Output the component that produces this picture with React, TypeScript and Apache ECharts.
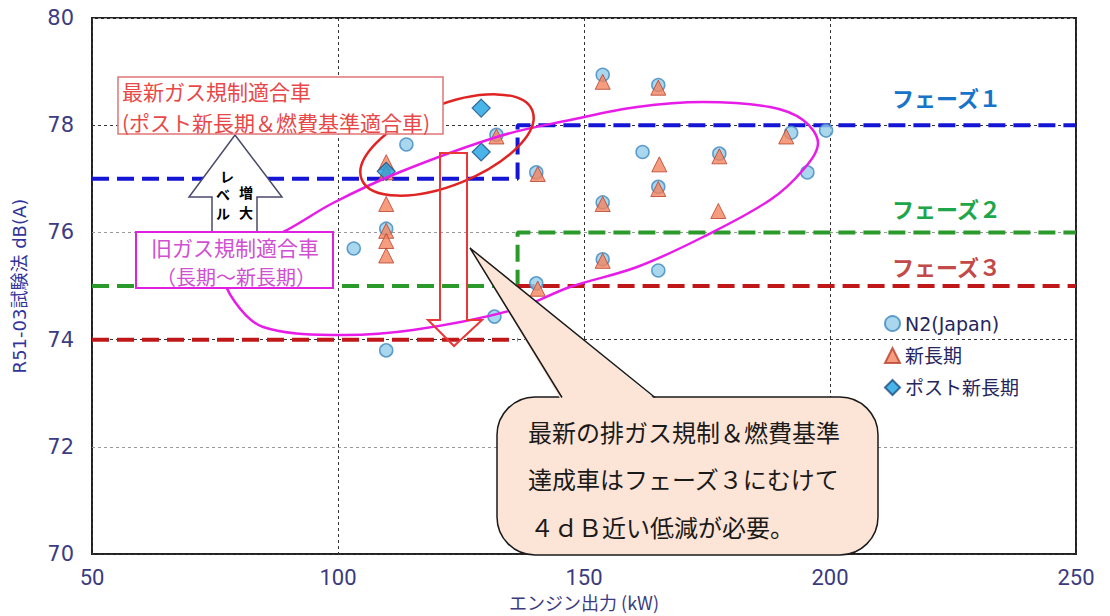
import React, { useEffect, useRef } from "react";
import * as echarts from "echarts";

// ---- data ----
const xRange = [50, 250];
const yRange = [70, 80];
const xInterval = 50;
const yInterval = 2;

const seriesNames = ["N2(Japan)", "新長期", "ポスト新長期"];

const n2Japan: number[][] = [
  [103.2, 75.7], [113.9, 77.64], [109.8, 76.07], [109.8, 73.8], [131.8, 74.43],
  [140.3, 75.05], [132.2, 77.82], [140.3, 77.12], [153.8, 78.94], [165.1, 78.75],
  [161.9, 77.5], [177.5, 77.47], [165.1, 76.85], [153.8, 76.56], [192.1, 77.86],
  [199.2, 77.9], [195.4, 77.12], [153.8, 75.5], [165.1, 75.29],
];

const shinChoki: number[][] = [
  [109.8, 77.31], [109.8, 77.12], [109.8, 76.53], [109.8, 76.03], [109.8, 75.84],
  [109.8, 75.57], [132.2, 77.79], [140.6, 77.09], [140.6, 74.95], [153.8, 78.81],
  [165.1, 78.7], [165.3, 77.27], [177.5, 77.42], [165.1, 76.81], [153.8, 76.53],
  [177.3, 76.4], [191.1, 77.79], [153.8, 75.47],
];

const postShinChoki: number[][] = [
  [109.8, 77.14], [129.1, 78.32], [129.1, 77.5],
];

// phase limit lines
const phase1: number[][] = [[50, 77], [136.5, 77], [136.5, 78], [250, 78]];
const phase2: number[][] = [[50, 75], [136.5, 75], [136.5, 76], [250, 76]];
const phase3Low: number[][] = [[50, 74], [136.5, 74]];
const phase3High: number[][] = [[136.5, 75], [250, 75]];

// annotation geometry (pixel)
const magentaCurve: number[][] = [
  [287, 230], [333, 203], [400, 172], [500, 136], [570, 120], [637, 107],
  [703, 102], [770, 107], [803, 120], [818, 143], [803, 170], [770, 200],
  [703, 237], [637, 267], [570, 287], [513, 310], [413, 330], [337, 335],
  [263, 327], [235, 302], [224, 272], [248, 248],
];

export default function App() {
  const ref = useRef<HTMLDivElement>(null);
  useEffect(() => {
    if (!ref.current) return;
    const chart = echarts.init(ref.current, undefined, { renderer: "svg" });
    const cjk = "'Noto Sans CJK JP', sans-serif";
    const lineSeries = (data: number[][], color: string) => ({
      type: "line",
      data,
      symbol: "none",
      silent: true,
      z: 2,
      lineStyle: { color, width: 4, type: [17, 8] },
    });
    const txt = (text: string, x: number, y: number, extra: any = {}) => ({
      type: "text",
      x,
      y,
      z: 130,
      style: {
        text,
        fontFamily: cjk,
        fontSize: 20,
        fill: "#000",
        textAlign: "left",
        textVerticalAlign: "middle",
        ...extra,
      },
    });
    const arrowChar = { fontWeight: "bold", fontSize: 14, textAlign: "center", lineHeight: 14 };
    chart.setOption({
      animation: false,
      backgroundColor: "#fff",
      grid: {
        left: 92,
        right: 34,
        top: 18,
        bottom: 59,
        show: true,
        borderColor: "#222",
        borderWidth: 2,
        backgroundColor: "transparent",
      },
      xAxis: {
        type: "value",
        min: xRange[0],
        max: xRange[1],
        interval: xInterval,
        name: "エンジン出力 (kW)",
        nameLocation: "middle",
        nameGap: 38,
        nameTextStyle: { color: "#3A3A80", fontSize: 18, fontFamily: "'Liberation Sans Narrow', " + cjk },
        axisLine: { show: false },
        axisTick: { show: false },
        axisLabel: {
          color: "#3A3A80",
          fontSize: 22,
          margin: 12,
          fontFamily: "'Liberation Sans Narrow', 'Roboto', sans-serif",
        },
        splitLine: { show: true, lineStyle: { color: "#333", type: [3, 3], width: 1 } },
      },
      yAxis: {
        type: "value",
        min: yRange[0],
        max: yRange[1],
        interval: yInterval,
        name: "R51-03試験法 dB(A)",
        nameLocation: "middle",
        nameGap: 64,
        nameTextStyle: { color: "#33339A", fontSize: 18, fontFamily: "'DejaVu Sans', " + cjk },
        axisLine: { show: false },
        axisTick: { show: false },
        axisLabel: {
          color: "#3C3C82",
          fontSize: 21,
          margin: 18,
          fontFamily: "'DejaVu Sans', sans-serif",
        },
        splitLine: { show: true, lineStyle: { color: ["#333", "#9a9a9a"], type: [3, 3], width: 1 } },
      },
      legend: {
        data: seriesNames,
        orient: "vertical",
        left: 879,
        top: 309,
        itemGap: 13,
        itemWidth: 15,
        itemHeight: 15,
        textStyle: { fontSize: 19, color: "#26265E", fontFamily: "'DejaVu Sans', " + cjk },
      },
      series: [
        lineSeries(phase1, "#1515D5"),
        lineSeries(phase2, "#2A9A2A"),
        lineSeries(phase3Low, "#C01818"),
        lineSeries(phase3High, "#C01818"),
        {
          name: seriesNames[0],
          type: "scatter",
          data: n2Japan,
          symbol: "circle",
          symbolSize: 13,
          z: 3,
          itemStyle: { color: "#92CDEA", borderColor: "#3F88BE", borderWidth: 1.5 },
        },
        {
          name: seriesNames[1],
          type: "scatter",
          data: shinChoki,
          symbol: "triangle",
          symbolSize: 15,
          z: 4,
          itemStyle: { color: "#F4845F", borderColor: "#B8402A", borderWidth: 1 },
        },
        {
          name: seriesNames[2],
          type: "scatter",
          data: postShinChoki,
          symbol: "diamond",
          symbolSize: 18,
          z: 5,
          itemStyle: { color: "#1BA1E2", borderColor: "#1A4E80", borderWidth: 1.2 },
        },
      ],
      graphic: [
        {
          type: "polygon",
          z: 100,
          shape: { points: magentaCurve, smooth: 0.35 },
          style: { fill: "none", stroke: "#E81CE8", lineWidth: 2.5 },
        },
        {
          type: "ellipse",
          z: 100,
          x: 447,
          y: 145,
          rotation: (22 * Math.PI) / 180,
          shape: { cx: 0, cy: 0, rx: 92, ry: 40 },
          style: { fill: "none", stroke: "#E02424", lineWidth: 2.5 },
        },
        {
          type: "polygon",
          z: 101,
          shape: {
            points: [[440, 153], [467, 153], [467, 320], [482, 320], [454, 346], [428, 320], [440, 320]],
          },
          style: { fill: "none", stroke: "#E8383A", lineWidth: 2 },
        },
        {
          type: "polygon",
          z: 105,
          shape: {
            points: [[235, 135], [282, 197], [257, 197], [257, 234], [212, 234], [212, 197], [189, 197]],
          },
          style: { fill: "#fff", stroke: "#4A4A6A", lineWidth: 1.5 },
        },
        txt("レ", 227, 176, arrowChar),
        txt("ベ", 223, 194, arrowChar),
        txt("ル", 223, 213, arrowChar),
        txt("増", 246, 192, arrowChar),
        txt("大", 246, 212, arrowChar),
        {
          type: "rect",
          z: 110,
          shape: { x: 118, y: 77, width: 325, height: 57 },
          style: { fill: "#fff", stroke: "#E07575", lineWidth: 1.5 },
        },
        txt("最新ガス規制適合車", 122, 91, { fontSize: 21, lineHeight: 21, fill: "#E84848" }),
        txt("(ポスト新長期＆燃費基準適合車)", 122, 122, { fontSize: 21, lineHeight: 21, fill: "#E84848" }),
        {
          type: "rect",
          z: 110,
          shape: { x: 136, y: 232, width: 197, height: 56 },
          style: { fill: "#fff", stroke: "#E020E0", lineWidth: 2 },
        },
        txt("旧ガス規制適合車", 235, 247, { fontSize: 21, lineHeight: 21, fill: "#D14FD1", textAlign: "center" }),
        txt("（長期～新長期）", 236, 276, { fontSize: 20, lineHeight: 20, fill: "#D14FD1", textAlign: "center" }),
        {
          type: "rect",
          z: 120,
          shape: { x: 497, y: 397, width: 381, height: 158, r: 38 },
          style: { fill: "#FCE4D6", stroke: "#1a1a1a", lineWidth: 1.5 },
        },
        {
          type: "polygon",
          z: 121,
          shape: { points: [[561, 400], [470, 248], [656, 400]] },
          style: { fill: "#FCE4D6", stroke: "none" },
        },
        {
          type: "polyline",
          z: 122,
          shape: { points: [[562, 397.5], [470, 248], [655, 397.5]] },
          style: { fill: "none", stroke: "#1a1a1a", lineWidth: 1.5 },
        },
        txt("最新の排ガス規制＆燃費基準", 528, 431, { fontSize: 24, lineHeight: 24, fill: "#1a1a1a" }),
        txt("達成車はフェーズ３にむけて", 528, 478, { fontSize: 24, lineHeight: 24, fill: "#1a1a1a" }),
        txt("４ｄＢ近い低減が必要。", 530, 526, { fontSize: 24, lineHeight: 24, fill: "#1a1a1a" }),
        txt("フェーズ１", 892, 97, { fontSize: 22, fontWeight: "bold", fill: "#1874C8" }),
        txt("フェーズ２", 892, 208, { fontSize: 22, fontWeight: "bold", fill: "#1EA64A" }),
        txt("フェーズ３", 892, 266, { fontSize: 22, fontWeight: "bold", fill: "#C24A48" }),
      ],
    });
    return () => chart.dispose();
  }, []);
  return (
    <div
      ref={ref}
      style={{ position: "fixed", left: 0, top: 0, width: 1110, height: 616, background: "#fff" }}
    />
  );
}
